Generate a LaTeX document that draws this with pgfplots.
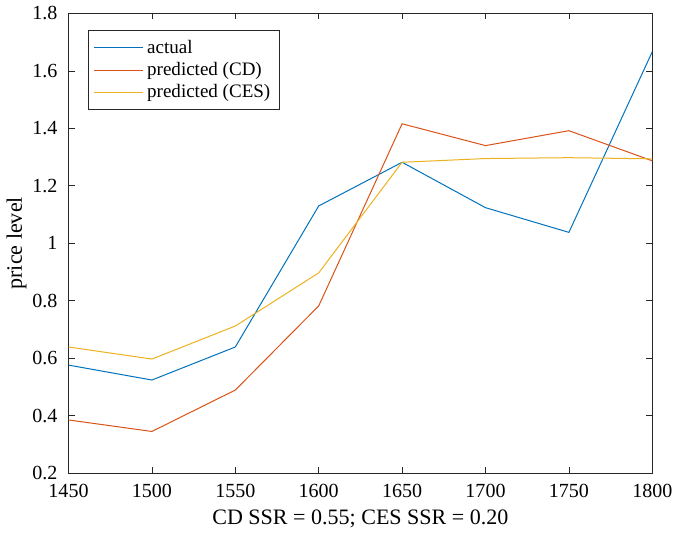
\documentclass[border=0pt]{standalone}
\usepackage{fontspec}
\setmainfont{Liberation Serif}
\usepackage{pgfplots}
\pgfplotsset{compat=1.18}
\definecolor{mblue}{rgb}{0,0.447,0.741}
\definecolor{mred}{rgb}{0.850,0.325,0.098}
\definecolor{myellow}{rgb}{0.929,0.694,0.125}
\begin{document}
\begin{tikzpicture}
\begin{axis}[
  scale only axis,
  width=291.5pt, height=229.5pt,
  xmin=1450, xmax=1800, ymin=0.2, ymax=1.8,
  xtick={1450,1500,...,1800},
  ytick={0.2,0.4,...,1.8},
  yticklabel style={/pgf/number format/fixed,/pgf/number format/precision=1, xshift=-2pt},
  xticklabel style={/pgf/number format/1000 sep={}, yshift=-2pt},
  /pgf/number format/assume math mode=true,
  tick align=inside,
  tick pos=both,
  major tick length=3pt,
  axis line style={black!85, line width=0.4pt},
  every tick/.style={black!85, line width=0.4pt},
  ticklabel style={font=\fontsize{10}{11}\selectfont},
  xlabel={CD SSR = 0.55; CES SSR = 0.20},
  ylabel={price level},
  label style={font=\fontsize{11}{12}\selectfont},
  xlabel style={yshift=1pt},
  ylabel style={yshift=-4pt},
  legend style={at={(0.034,0.963)}, anchor=north west, draw=black!85,
    font=\fontsize{9.5}{11}\selectfont, row sep=-1pt, inner sep=2.5pt},
  legend cell align=left,
  legend image code/.code={\draw[#1] (0cm,0cm) -- (0.85cm,0cm);},
]
\addplot[mblue, line width=0.5pt] coordinates {
(1450,0.576) (1500,0.524) (1550,0.639) (1600,1.130) (1650,1.282) (1700,1.124) (1750,1.038) (1800,1.667)};
\addplot[mred, line width=0.5pt] coordinates {
(1450,0.385) (1500,0.345) (1550,0.489) (1600,0.782) (1650,1.416) (1700,1.340) (1750,1.392) (1800,1.287)};
\addplot[myellow, line width=0.5pt] coordinates {
(1450,0.639) (1500,0.597) (1550,0.712) (1600,0.897) (1650,1.282) (1700,1.295) (1750,1.298) (1800,1.294)};
\legend{actual, predicted (CD), predicted (CES)}
\end{axis}
\end{tikzpicture}
\end{document}
